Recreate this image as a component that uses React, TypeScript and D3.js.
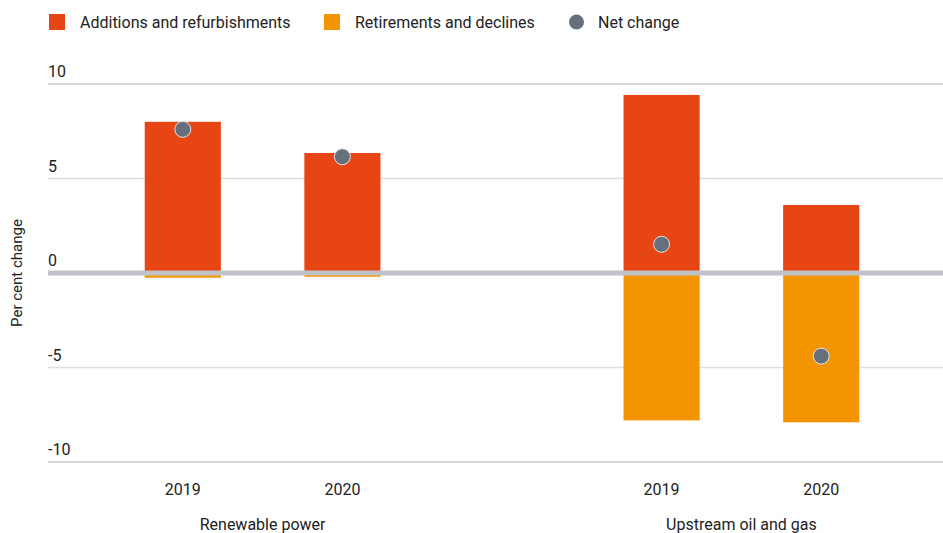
import * as d3 from "d3";

// chart data
const sectors = ["Renewable power", "Upstream oil and gas"];
const years = ["2019", "2020"];
const additions = [8.0, 6.35, 9.42, 3.6];
const retirements = [-0.25, -0.2, -7.8, -7.9];
const netChange = [7.6, 6.15, 1.52, -4.4];
const yTicks = [10, 5, 0, -5, -10];

const legendItems = [
  { label: "Additions and refurbishments", color: "#e84515", kind: "square" },
  { label: "Retirements and declines", color: "#f39500", kind: "square" },
  { label: "Net change", color: "#66707c", kind: "dot" },
];

const W = 943;
const H = 533;
const FONT = "Roboto, 'Noto Sans', sans-serif";

// slot keys: sector|year, with an empty slot between sectors
const slots = [
  `${sectors[0]}|${years[0]}`,
  `${sectors[0]}|${years[1]}`,
  "gap",
  `${sectors[1]}|${years[0]}`,
  `${sectors[1]}|${years[1]}`,
];
const barKeys = slots.filter((s) => s !== "gap");

const App = () => {
  const x = d3.scaleBand().domain(slots).range([103, 901]).padding(0);
  const y = d3.scaleLinear().domain([-10, 10]).range([462, 84]);
  const barW = x.bandwidth() * 0.477;
  const cx = (k: string) => (x(k) as number) + x.bandwidth() / 2;

  return (
    <svg
      width={W}
      height={H}
      style={{ position: "absolute", left: 0, top: 0, background: "#fff" }}
      fontFamily={FONT}
    >
      {/* legend */}
      <g>
        {legendItems.map((d, i) => {
          const lx = [49, 324, 569][i];
          return (
            <g key={d.label} transform={`translate(${lx},22)`}>
              {d.kind === "square" ? (
                <rect x={0} y={-8} width={16} height={16} fill={d.color} />
              ) : (
                <circle cx={7.5} cy={0} r={7.5} fill={d.color} />
              )}
              <text x={i === 2 ? 29 : 31} y={0} dy="0.35em" fontSize={16} fill="#222">
                {d.label}
              </text>
            </g>
          );
        })}
      </g>

      {/* grid lines and y tick labels */}
      {yTicks.map((t) => (
        <g key={t}>
          {t !== 0 && (
            <line
              x1={48}
              x2={W}
              y1={y(t)}
              y2={y(t)}
              stroke={Math.abs(t) === 10 ? "#c5c9d0" : "#dcdfe3"}
              strokeWidth={1.5}
            />
          )}
          <text x={48} y={y(t) - 7} fontSize={16} fill="#222">
            {t}
          </text>
        </g>
      ))}

      {/* y axis title */}
      <text
        transform={`translate(22,${y(0)}) rotate(-90)`}
        textAnchor="middle"
        fontSize={15}
        fill="#222"
      >
        Per cent change
      </text>

      {/* bars */}
      {barKeys.map((k, i) => (
        <g key={k}>
          <rect
            x={cx(k) - barW / 2}
            width={barW}
            y={y(additions[i])}
            height={y(0) - y(additions[i])}
            fill="#e84515"
          />
          <rect
            x={cx(k) - barW / 2}
            width={barW}
            y={y(0)}
            height={y(retirements[i]) - y(0)}
            fill="#f39500"
          />
        </g>
      ))}

      {/* zero line */}
      <line x1={48} x2={W} y1={y(0)} y2={y(0)} stroke="#bfc3c7" strokeWidth={5} />

      {/* net change dots */}
      {barKeys.map((k, i) => (
        <circle
          key={k}
          cx={cx(k)}
          cy={y(netChange[i])}
          r={8}
          fill="#66707c"
          stroke="#e6e6e6"
          strokeWidth={1}
        />
      ))}

      {/* x labels */}
      {barKeys.map((k) => (
        <text key={k} x={cx(k)} y={489} dy="0.35em" textAnchor="middle" fontSize={16} fill="#222">
          {k.split("|")[1]}
        </text>
      ))}
      {sectors.map((s, i) => {
        const a = cx(`${s}|${years[0]}`);
        const b = cx(`${s}|${years[1]}`);
        return (
          <text key={s} x={(a + b) / 2} y={524} dy="0.35em" textAnchor="middle" fontSize={16} fill="#222">
            {s}
          </text>
        );
      })}
    </svg>
  );
};

export default App;
